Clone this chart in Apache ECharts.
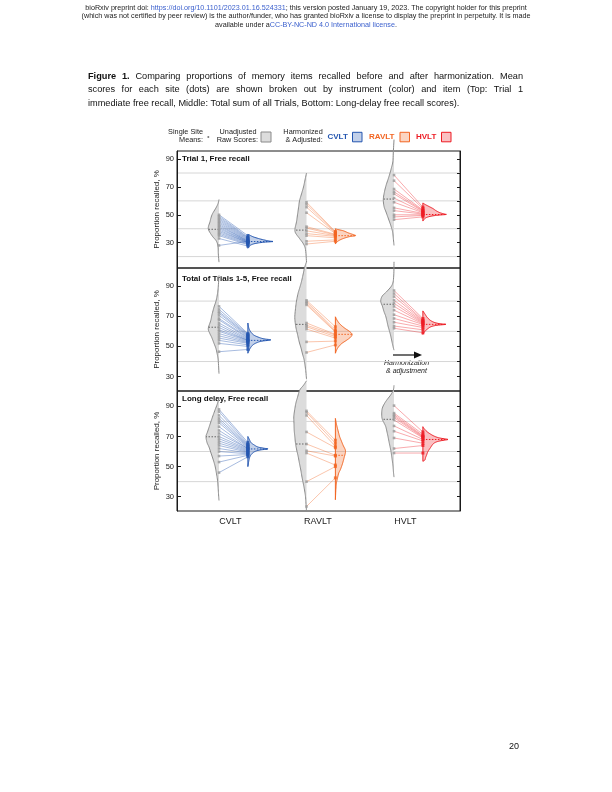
<!DOCTYPE html>
<html><head><meta charset="utf-8">
<script src="https://cdn.jsdelivr.net/npm/echarts@6/dist/echarts.min.js"></script>
<style>html,body{margin:0;padding:0;background:#fff}#c{width:612px;height:792px}</style>
</head><body><div id="c"></div>
<script>
// ---------------- DATA ----------------
const INSTRUMENTS = ['CVLT', 'RAVLT', 'HVLT'];
const PANEL_TITLES = ['Trial 1, Free recall', 'Total of Trials 1-5, Free recall', 'Long delay, Free recall'];
const Y_TICK_LABELS = [30, 50, 70, 90];
const Y_MINOR_TICKS = [20, 30, 40, 50, 60, 70, 80, 90];
const Y_GRID_LINES = [20, 40, 60, 80];
const Y_RANGES = [[11.8, 95.8], [20.5, 101.9], [20.5, 100.2]];

// Trial 1 — site means (raw / harmonized, paired by site)
const t1_cvlt_raw  = [50, 49, 48, 47, 46, 45, 44, 43, 42, 41, 40, 39, 38, 37, 36, 35, 33, 28];
const t1_cvlt_harm = [35, 34, 33.5, 33, 32.5, 32, 31.5, 31, 31, 30.5, 30.5, 30, 30, 29.5, 29, 28.5, 27.5, 31];
const t1_ravlt_raw  = [59, 57.5, 55.5, 51.5, 41.5, 40.5, 38.5, 36.5, 35, 31, 29];
const t1_ravlt_harm = [38, 37.5, 37, 36.5, 36, 35.5, 35, 34.5, 33.5, 32, 31];
const t1_hvlt_raw  = [78.5, 74.5, 68.5, 66.5, 65, 62, 59, 55, 53, 50, 48.5, 46.5];
const t1_hvlt_harm = [55.5, 54.5, 53.5, 53, 52.5, 52, 51.5, 51, 50.5, 50, 49.5, 48.5];
const t1_raw_means  = [39.6, 39, 61.3];
const t1_harm_means = [30.8, 35, 50.2];
// density profiles [value, relative density]
const t1_cvlt_raw_prof  = [[61,0],[58,1],[55,3],[50,7],[45,9],[40,10.7],[35,7],[31,2.5],[27,1],[22,0.7],[16,0]];
const t1_cvlt_harm_prof = [[36,0],[35.3,2],[34,6],[32.5,13],[31.2,21],[30.8,25],[30.3,16],[29.5,8],[28.5,3.5],[27.5,1.5],[26,0]];
const t1_ravlt_raw_prof  = [[80,0],[75,1.5],[70,3],[65,5],[60,7],[55,8],[50,9],[45,10],[40,11.5],[37,11],[33,7],[29,3],[25,1],[16,0]];
const t1_ravlt_harm_prof = [[40,0],[39.5,2],[38.5,8],[37,13],[35.5,19],[35,20],[34.3,14],[33,8],[31.5,3.5],[30,1],[29,0]];
const t1_hvlt_raw_prof  = [[104,0],[95,0.7],[88,1.2],[84,2.5],[80,4],[76,5.7],[71,8],[66,9.7],[61,10.7],[56,10],[52,8],[47,5.5],[42.5,3.3],[38,1.5],[33,0.7],[28,0]];
const t1_hvlt_harm_prof = [[58.5,0],[57.5,2],[56,6],[54.5,10],[53,13],[51.5,17],[50.5,22],[50.2,23],[49.7,15],[49,8],[48,3.5],[47,1.5],[45.5,0]];

// Total of trials 1-5
const t2_cvlt_raw  = [76.5, 74.5, 73, 72, 70.5, 68.5, 67.5, 65.5, 64, 62.5, 61, 60, 58.5, 57, 55.5, 54, 52, 46.5];
const t2_cvlt_harm = [58.5, 58, 57.5, 57, 56.5, 56, 55.5, 55, 54.5, 54, 54, 53.5, 53, 52.5, 52, 51, 50, 48];
const t2_ravlt_raw  = [80.5, 79.5, 78.5, 77.5, 65.5, 64, 63, 61.5, 53, 46];
const t2_ravlt_harm = [63, 61, 60, 59.5, 58, 57.5, 56.5, 55.5, 53.5, 51];
const t2_hvlt_raw  = [87, 85, 83, 80.5, 78.5, 76.5, 74, 71, 68.5, 66, 63.5, 62];
const t2_hvlt_harm = [68.5, 67.5, 67, 66.5, 66, 65.5, 65, 64.5, 63.5, 62.5, 61, 59];
const t2_raw_means  = [62.7, 64.6, 77.9];
const t2_harm_means = [54, 58, 64.6];
const t2_cvlt_raw_prof  = [[97,0],[90,0.7],[85,1.5],[80,3],[76,5],[71,7],[67,8.3],[62,10.7],[59,9.5],[56,7.3],[52,5],[48.5,3],[44,1.5],[40,0.7],[32,0]];
const t2_cvlt_harm_prof = [[65.5,0],[62,1],[59.5,3],[57.5,6],[56,11],[55,16],[54.3,23],[53.5,14],[52.5,9],[51,5],[49,2.5],[47,1],[45.5,0]];
const t2_ravlt_raw_prof  = [[106,0],[102,2],[98,3.3],[93,5],[89,6.7],[85,8.5],[80,10],[75,11],[69,11.7],[63,10.7],[58,9],[53,7.3],[49,5.5],[45,4],[41.5,2.5],[38.5,1.7],[34,0.8],[28.3,0]];
const t2_ravlt_harm_prof = [[69.6,0],[67,2],[64.5,5],[62,9.5],[60,14],[58,16.7],[56,15],[54,11],[52,6.5],[50,3.5],[48,1.5],[45.5,0]];
const t2_hvlt_raw_prof  = [[106,0],[96.6,0.3],[91,1.7],[86.7,6.7],[83.4,11.7],[80,13.3],[76.8,11.7],[73,10],[70,8.3],[66.5,7],[63.5,6],[60,4.5],[57,3.3],[53,2],[50,1],[47.5,0]];
const t2_hvlt_harm_prof = [[73.5,0],[71.5,2],[69.5,4],[67.5,7],[66,11],[65,17],[64.6,23],[64,14],[63,8],[61.5,4.5],[60,2],[58,0]];

// Long delay
const t3_cvlt_raw  = [88, 86.5, 84, 82, 80.5, 79, 76.5, 74, 72, 70, 68.5, 67, 65.5, 64, 62, 60, 57, 53, 46];
const t3_cvlt_harm = [66, 65, 64.5, 64, 63.5, 63, 62.5, 62, 62, 61.5, 61, 60.5, 60, 59.5, 59, 58.5, 58, 57.5, 56.5];
const t3_ravlt_raw  = [87, 86, 84, 73, 65, 60.5, 59, 40, 23.5];
const t3_ravlt_harm = [67.5, 65.5, 63.5, 62.5, 57.5, 57, 51, 50, 42.5];
const t3_hvlt_raw  = [90.5, 85.5, 84.5, 83.5, 82.5, 81, 77, 73.5, 69, 62, 59];
const t3_hvlt_harm = [73, 71.5, 70.5, 70, 69.5, 69, 68, 67, 65.5, 64, 59];
const t3_raw_means  = [69.8, 65, 81.4];
const t3_harm_means = [61.7, 57.5, 68];
const t3_cvlt_raw_prof  = [[96,0],[92,1.5],[87,4.3],[82,7],[77.4,9.3],[73,11.5],[70,13],[66,12],[63,10],[59,8],[55,6],[50.5,4],[46,2.7],[41,1.5],[37,1],[32,0.5],[27.5,0]];
const t3_cvlt_harm_prof = [[70,0],[68,1.5],[66,3],[64.5,6],[63,10],[62.2,16],[61.7,20],[61,12],[60,7],[58.5,4],[56.5,2],[54,1],[50,0]];
const t3_ravlt_raw_prof  = [[107,0],[104,3],[100.9,6.7],[96,9],[92,10.7],[87,12],[83,12.7],[78,12.5],[74,12.3],[70,11.7],[65.4,11],[61,9.8],[56.6,8.3],[52,7],[47.7,5.7],[43,4.5],[39,3.3],[34.5,2],[30,1],[25,0.5],[20.5,0]];
const t3_ravlt_harm_prof = [[82,0],[79,0.8],[76.4,1.7],[73,3],[69.8,4.3],[67,6],[64.2,7.7],[60.9,10],[58.5,9.8],[56.6,9],[54,8],[51.1,6.7],[48,5],[45.6,3.3],[42,2],[38.9,1],[34,0.4],[28,0]];
const t3_hvlt_raw_prof  = [[104,0],[100.8,0.7],[97.6,3.3],[93.2,8.3],[88.8,11.7],[84.3,12.3],[81.4,11.7],[79,10],[76.6,8.3],[73,7],[69.9,6],[66.5,5],[63.3,4],[60,3],[56.7,2.3],[53,1.5],[50,1],[46,0.5],[43,0]];
const t3_hvlt_harm_prof = [[76.5,0],[75.4,1],[73.1,4.3],[70.9,9.3],[69.5,14],[68.7,19],[68,25],[67.3,19],[66.5,14],[65.5,11],[64.3,9.3],[62.5,7.5],[61,6],[59.5,4.7],[57.7,3.7],[56,2.7],[54.4,2],[53.5,0]];

// ---------------- LAYOUT / STYLE ----------------
const FONT = '"Liberation Sans", Arial, sans-serif';
const COLORS = ['#2456b0', '#f26522', '#ed1c24'];
const FILLS = ['rgba(36,86,176,0.28)', 'rgba(242,101,34,0.28)', 'rgba(237,28,36,0.28)'];
const LINE_COLORS = ['rgba(36,86,176,0.45)', 'rgba(242,101,34,0.42)', 'rgba(237,28,36,0.42)'];
const HOFF = 0.33;
const DENS_TO_X = 1 / 87.5;
const X_RANGE = [0.52, 3.754];
const LABEL_X = [1.13, 2.13, 3.13];
const GRID_BOXES = [{ top: 151, height: 117 }, { top: 268, height: 123 }, { top: 391, height: 120 }];

const PANELS = [
  { raw: [t1_cvlt_raw, t1_ravlt_raw, t1_hvlt_raw], harm: [t1_cvlt_harm, t1_ravlt_harm, t1_hvlt_harm],
    rawMean: t1_raw_means, harmMean: t1_harm_means,
    rawProf: [t1_cvlt_raw_prof, t1_ravlt_raw_prof, t1_hvlt_raw_prof], harmProf: [t1_cvlt_harm_prof, t1_ravlt_harm_prof, t1_hvlt_harm_prof] },
  { raw: [t2_cvlt_raw, t2_ravlt_raw, t2_hvlt_raw], harm: [t2_cvlt_harm, t2_ravlt_harm, t2_hvlt_harm],
    rawMean: t2_raw_means, harmMean: t2_harm_means,
    rawProf: [t2_cvlt_raw_prof, t2_ravlt_raw_prof, t2_hvlt_raw_prof], harmProf: [t2_cvlt_harm_prof, t2_ravlt_harm_prof, t2_hvlt_harm_prof] },
  { raw: [t3_cvlt_raw, t3_ravlt_raw, t3_hvlt_raw], harm: [t3_cvlt_harm, t3_ravlt_harm, t3_hvlt_harm],
    rawMean: t3_raw_means, harmMean: t3_harm_means,
    rawProf: [t3_cvlt_raw_prof, t3_ravlt_raw_prof, t3_hvlt_raw_prof], harmProf: [t3_cvlt_harm_prof, t3_ravlt_harm_prof, t3_hvlt_harm_prof] }
];

// ---------------- HELPERS ----------------
function smoothPts(pts, n) {
  const out = [];
  for (let i = 0; i < pts.length - 1; i++) {
    const p0 = pts[Math.max(i - 1, 0)], p1 = pts[i], p2 = pts[i + 1], p3 = pts[Math.min(i + 2, pts.length - 1)];
    for (let t = 0; t < n; t++) {
      const s = t / n, s2 = s * s, s3 = s2 * s;
      const f = k => 0.5 * (2 * p1[k] + (-p0[k] + p2[k]) * s + (2 * p0[k] - 5 * p1[k] + 4 * p2[k] - p3[k]) * s2 + (-p0[k] + 3 * p1[k] - 3 * p2[k] + p3[k]) * s3);
      out.push([f(0), f(1)]);
    }
  }
  out.push(pts[pts.length - 1]);
  return out;
}
function widthAt(prof, v) {
  for (let k = 0; k < prof.length - 1; k++) {
    const [v0, d0] = prof[k], [v1, d1] = prof[k + 1];
    if (v <= v0 && v >= v1) { const t = (v0 - v) / ((v0 - v1) || 1); return d0 + (d1 - d0) * t; }
  }
  return 0;
}
function violinGroup(api, prof, cx, side, mean, fill, stroke, meanColor, edge) {
  const cpx = api.coord([cx, mean])[0];
  const pts = prof.map(([v, d]) => api.coord([cx + side * d * DENS_TO_X, v]));
  const curve = smoothPts(pts, 6).map(p => [side > 0 ? Math.max(p[0], cpx) : Math.min(p[0], cpx), p[1]]);
  const children = [
    { type: 'polygon', shape: { points: curve }, style: { fill: fill, stroke: null } },
    { type: 'polyline', shape: { points: curve }, style: { fill: null, stroke: stroke, lineWidth: 1 } }
  ];
  if (edge) children.push({ type: 'line', shape: { x1: cpx, y1: pts[0][1], x2: cpx, y2: pts[pts.length - 1][1] }, style: { stroke: stroke, lineWidth: 1 } });
  const w = widthAt(prof, mean);
  const m0 = api.coord([cx, mean]), m1 = api.coord([cx + side * w * DENS_TO_X, mean]);
  children.push({ type: 'line', shape: { x1: m0[0], y1: m0[1], x2: m1[0], y2: m1[1] }, style: { stroke: meanColor, lineWidth: 1, lineDash: [1.5, 1.5] } });
  return { type: 'group', children: children };
}
const mctx = document.createElement('canvas').getContext('2d');
function tw(text, font) { mctx.font = font; return mctx.measureText(text).width; }
function textEl(text, x, y, font, color, align) {
  return { type: 'text', x: x, y: y, silent: true,
    style: { text: text, font: font, fill: color, textAlign: align || 'left', textVerticalAlign: 'middle', align: align || 'left', verticalAlign: 'middle' } };
}
function segLineCentered(segs, cx, y, font) {
  const total = segs.reduce((s, g) => s + tw(g[0], font), 0);
  let x = cx - total / 2; const els = [];
  segs.forEach(g => { els.push(textEl(g[0], x, y, font, g[1])); x += tw(g[0], font); });
  return els;
}
function justified(words, x0, x1, y, justify) {
  const widths = words.map(w => tw(w[0], w[1]));
  const sum = widths.reduce((a, b) => a + b, 0);
  const sp = justify ? (x1 - x0 - sum) / (words.length - 1) : tw(' ', words[0][1]);
  let x = x0; const els = [];
  words.forEach((w, i) => { els.push(textEl(w[0], x, y, w[1], '#111')); x += widths[i] + sp; });
  return els;
}

// ---------------- OPTION ----------------
const grid = GRID_BOXES.map(b => ({ left: 177, width: 283, top: b.top, height: b.height, show: true,
  borderColor: '#1a1a1a', borderWidth: 1, backgroundColor: 'rgba(0,0,0,0)', outerBoundsMode: 'none' }));
const xAxis = GRID_BOXES.map((b, p) => ({ gridIndex: p, type: 'value', min: X_RANGE[0], max: X_RANGE[1],
  axisLine: { show: false }, axisTick: { show: false }, splitLine: { show: false },
  axisLabel: p === 2 ? { customValues: LABEL_X, formatter: v => INSTRUMENTS[Math.round(v - LABEL_X[0])],
    fontSize: 9, color: '#1a1a1a', margin: 6, fontFamily: FONT } : { show: false } }));
const yAxis = [];
GRID_BOXES.forEach((b, p) => {
  yAxis.push({ gridIndex: p, type: 'value', min: Y_RANGES[p][0], max: Y_RANGES[p][1], position: 'left',
    name: 'Proportion recalled, %', nameLocation: 'middle', nameGap: 16,
    nameTextStyle: { fontSize: 8, color: '#1a1a1a', fontFamily: FONT },
    axisLine: { show: true, lineStyle: { color: '#1a1a1a', width: 1 } },
    axisTick: { show: true, inside: true, length: 4, customValues: Y_TICK_LABELS, lineStyle: { color: '#1a1a1a' } },
    axisLabel: { customValues: Y_TICK_LABELS, fontSize: 7.5, color: '#1a1a1a', margin: 3, fontFamily: FONT },
    splitLine: { show: false } });
  yAxis.push({ gridIndex: p, type: 'value', min: Y_RANGES[p][0], max: Y_RANGES[p][1], position: 'right',
    axisLine: { show: true, lineStyle: { color: '#1a1a1a', width: 1 } },
    axisTick: { show: true, inside: true, length: 3, customValues: Y_MINOR_TICKS.filter(v => v > Y_RANGES[p][0] && v < Y_RANGES[p][1]), lineStyle: { color: '#1a1a1a' } },
    axisLabel: { show: false }, splitLine: { show: false } });
});

const series = [];
PANELS.forEach((P, p) => {
  const axes = { xAxisIndex: p, yAxisIndex: 2 * p };
  // grid lines
  series.push(Object.assign({ type: 'custom', z: 0, silent: true,
    data: Y_GRID_LINES.filter(v => v > Y_RANGES[p][0] && v < Y_RANGES[p][1]).map(v => [X_RANGE[0], v]),
    encode: { x: 0, y: 1 },
    renderItem: (params, api) => { const cs = params.coordSys; const y = api.coord([1, api.value(1)])[1];
      return { type: 'line', shape: { x1: cs.x, y1: y, x2: cs.x + cs.width, y2: y }, style: { stroke: '#d6d6d6', lineWidth: 1 } }; } }, axes));
  // raw violins
  series.push(Object.assign({ type: 'custom', z: 1, silent: true, clip: false,
    data: INSTRUMENTS.map((n, i) => [i + 1, P.rawMean[i]]), encode: { x: 0, y: 1 },
    renderItem: (params, api) => { const i = params.dataIndex;
      return violinGroup(api, P.rawProf[i], i + 1, -1, P.rawMean[i], '#dcdcdc', '#8a8a8a', '#666', false); } }, axes));
  // connecting lines
  const links = [];
  P.raw.forEach((arr, i) => arr.forEach((v, j) => links.push([i + 1, v, i + 1 + HOFF, P.harm[i][j], i])));
  series.push(Object.assign({ type: 'custom', z: 2, silent: true, clip: false, data: links, encode: { x: [0, 2], y: [1, 3] },
    renderItem: (params, api) => { const a = api.coord([api.value(0), api.value(1)]), b = api.coord([api.value(2), api.value(3)]);
      return { type: 'line', shape: { x1: a[0], y1: a[1], x2: b[0], y2: b[1] }, style: { stroke: LINE_COLORS[api.value(4)], lineWidth: 0.9 } }; } }, axes));
  // harmonized violins
  series.push(Object.assign({ type: 'custom', z: 3, silent: true, clip: false,
    data: INSTRUMENTS.map((n, i) => [i + 1 + HOFF, P.harmMean[i]]), encode: { x: 0, y: 1 },
    renderItem: (params, api) => { const i = params.dataIndex;
      return violinGroup(api, P.harmProf[i], i + 1 + HOFF, 1, P.harmMean[i], FILLS[i], COLORS[i], COLORS[i], true); } }, axes));
  // raw dots
  const rawDots = []; P.raw.forEach((arr, i) => arr.forEach(v => rawDots.push([i + 1, v])));
  series.push(Object.assign({ type: 'scatter', z: 4, silent: true, symbol: 'rect', symbolSize: 2.6,
    itemStyle: { color: '#9a9a9a' }, data: rawDots }, axes));
  // harmonized dots
  const harmDots = []; P.harm.forEach((arr, i) => arr.forEach(v => harmDots.push({ value: [i + 1 + HOFF, v], itemStyle: { color: COLORS[i] } })));
  series.push(Object.assign({ type: 'scatter', z: 4, silent: true, symbol: 'rect', symbolSize: 3, data: harmDots }, axes));
});

// ---------------- TEXT / ANNOTATIONS ----------------
const g = [];
const HF = '7.2px ' + FONT;
const LINK = '#3a5fcd';
g.push(...segLineCentered([['bioRxiv preprint doi: ', '#222'], ['https://doi.org/10.1101/2023.01.16.524331', LINK], ['; this version posted January 19, 2023. The copyright holder for this preprint', '#222']], 306, 8, HF));
g.push(...segLineCentered([['(which was not certified by peer review) is the author/funder, who has granted bioRxiv a license to display the preprint in perpetuity. It is made', '#222']], 306, 16.5, HF));
g.push(...segLineCentered([['available under a', '#222'], ['CC-BY-NC-ND 4.0 International license', LINK], ['.', '#222']], 306, 25, HF));

const CF = '9.2px ' + FONT, CFB = 'bold 9.2px ' + FONT;
const cap1 = [['Figure', CFB], ['1.', CFB]].concat('Comparing proportions of memory items recalled before and after harmonization. Mean'.split(' ').map(w => [w, CF]));
const cap2 = 'scores for each site (dots) are shown broken out by instrument (color) and item (Top: Trial 1'.split(' ').map(w => [w, CF]);
const cap3 = 'immediate free recall, Middle: Total sum of all Trials, Bottom: Long-delay free recall scores).'.split(' ').map(w => [w, CF]);
g.push(...justified(cap1, 88, 523, 76, true));
g.push(...justified(cap2, 88, 523, 89.5, true));
g.push(...justified(cap3, 88, 523, 103, false));

// legend
const LF = '7.3px ' + FONT, LFB = 'bold 8px ' + FONT;
g.push(textEl('Single Site', 203, 131.5, LF, '#222', 'right'));
g.push(textEl('Means:', 203, 140, LF, '#222', 'right'));
g.push({ type: 'circle', shape: { cx: 208.3, cy: 137, r: 1 }, style: { fill: '#777' }, silent: true });
g.push(textEl('Unadjusted', 256.5, 131.5, LF, '#222', 'right'));
g.push(textEl('Raw Scores:', 258, 140, LF, '#222', 'right'));
g.push({ type: 'rect', shape: { x: 261, y: 132, width: 10, height: 10 }, style: { fill: '#dcdcdc', stroke: '#8a8a8a', lineWidth: 1 }, silent: true });
g.push(textEl('Harmonized', 322.7, 131.5, LF, '#222', 'right'));
g.push(textEl('& Adjusted:', 322.7, 140, LF, '#222', 'right'));
const legX = [[327.5, 352.5], [369, 400], [416, 441.5]];
INSTRUMENTS.forEach((n, i) => {
  g.push(textEl(n, legX[i][0], 136.8, LFB, COLORS[i], 'left'));
  g.push({ type: 'rect', shape: { x: legX[i][1], y: 132.3, width: 9.5, height: 9.5 }, style: { fill: FILLS[i], stroke: COLORS[i], lineWidth: 1 }, silent: true });
});

// panel titles
const titleY = [159, 279, 399];
PANEL_TITLES.forEach((t, p) => g.push(textEl(t, 182, titleY[p], 'bold 8px ' + FONT, '#111', 'left')));

// harmonization arrow annotation
g.push({ type: 'line', shape: { x1: 393, y1: 355, x2: 415, y2: 355 }, style: { stroke: '#111', lineWidth: 1.2 }, silent: true });
g.push({ type: 'polygon', shape: { points: [[422, 355], [414, 351.5], [414, 358.5]] }, style: { fill: '#111' }, silent: true });
g.push(textEl('Harmonization', 406.5, 362.8, 'italic 7px ' + FONT, '#222', 'center'));
g.push(textEl('& adjustment', 406.5, 370.8, 'italic 7px ' + FONT, '#222', 'center'));

// page number
g.push(textEl('20', 514, 747, '9px ' + FONT, '#111', 'center'));

const chart = echarts.init(document.getElementById('c'), null, { renderer: 'canvas' });
chart.setOption({ animation: false, backgroundColor: '#fff', textStyle: { fontFamily: FONT },
  grid: grid, xAxis: xAxis, yAxis: yAxis, series: series, graphic: { elements: g } });
</script></body></html>
